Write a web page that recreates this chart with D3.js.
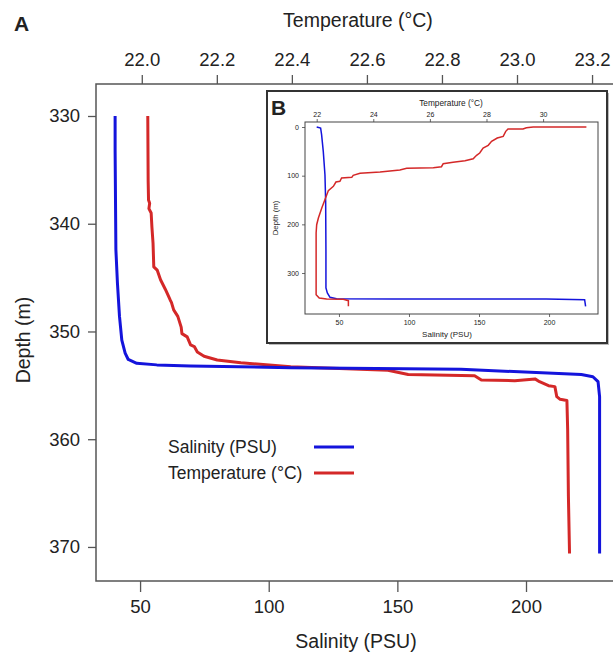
<!DOCTYPE html>
<html lang="en">
<head>
<meta charset="utf-8">
<title>Depth profile</title>
<style>
  body { margin: 0; background: #fff; }
  svg text { font-family: "Liberation Sans", Arial, sans-serif; fill: #222; }
</style>
</head>
<body>
<script src="https://cdn.jsdelivr.net/npm/d3@7"></script>
<script>
// main panel (A): 330-370 m
var salDepth = [330, 333.2, 342.4, 345.5, 348.6, 350.8, 352, 352.6, 352.95, 353.1, 353.2, 353.36, 353.5, 354.0, 354.2, 354.66, 356.05, 370.6];
var salValues = [40.3, 40.3, 40.6, 41.2, 42, 42.9, 44.2, 45.4, 48.7, 56.5, 69.5, 108.5, 174.7, 221.5, 226, 228, 228.6, 228.6];

var tempDepth = [330, 336, 337.8, 338.1, 338.6, 339, 340.3, 341.8, 344.0, 344.3, 345.2, 346.1, 347.1, 347.3, 348.0, 348.6, 349.6, 350.2, 350.5, 351.25, 351.4, 351.9, 352.3, 352.65, 352.9, 353.27, 353.6, 354.0, 354.1, 354.5, 354.57, 354.4, 354.66, 355.03, 355.12, 356.05, 356.3, 356.4, 359.1, 365.3, 370.6];
var tempValues = [22.016, 22.017, 22.018, 22.021, 22.019, 22.025, 22.027, 22.03, 22.032, 22.041, 22.05, 22.063, 22.076, 22.079, 22.085, 22.096, 22.105, 22.107, 22.121, 22.13, 22.14, 22.148, 22.166, 22.201, 22.264, 22.397, 22.656, 22.71, 22.887, 22.905, 22.994, 23.048, 23.06, 23.084, 23.101, 23.106, 23.115, 23.133, 23.135, 23.137, 23.14];

var tempTicks = [22.0, 22.2, 22.4, 22.6, 22.8, 23.0, 23.2];
var salTicks = [50, 100, 150, 200];
var depthTicks = [330, 340, 350, 360, 370];

// inset panel (B): full cast 0-370 m
var insetSalDepth = [0, 2, 15.8, 50, 98, 152.7, 255.5, 330.8, 341, 350, 352.7, 353.4, 353.4, 354.8, 368.5];
var insetSalValues = [34.1, 36.9, 37.6, 38.8, 40.0, 40.5, 40.7, 40.7, 41.7, 43.6, 48.3, 88.7, 198, 225.4, 226.1];

var insetTempDepth = [0, 0, 1.4, 4.1, 4.1, 8.9, 19.2, 22.6, 29.5, 37.7, 43.2, 53.4, 58.2, 65.1, 69.2, 72.6, 75.3, 81.5, 83.6, 84.9, 88.4, 92.5, 95.2, 99.3, 103.4, 104.8, 111.6, 113, 121.9, 130.8, 149.3, 166.4, 187, 200.7, 217.8, 344.5, 351.4, 353.4, 354.1, 356.8, 368.5];
var insetTempValues = [31.53, 29.65, 29.41, 29.29, 28.76, 28.68, 28.59, 28.38, 28.18, 28.06, 27.88, 27.76, 27.65, 27.53, 27.24, 26.82, 26.47, 26.41, 26.12, 25.18, 24.94, 24.24, 23.53, 23.29, 23.24, 22.88, 22.82, 22.68, 22.59, 22.41, 22.29, 22.18, 22.06, 22.0, 21.98, 21.98, 22.09, 22.35, 22.94, 23.12, 23.12];

var insetTempTicks = [22, 24, 26, 28, 30];
var insetSalTicks = [50, 100, 150, 200];
var insetDepthTicks = [0, 100, 200, 300];

var legendNames = ["Salinity (PSU)", "Temperature (°C)"];

var width = 613, height = 652;
var blue = "#1414dc", red = "#d42828", axisCol = "#555";

var svg = d3.select("body").append("svg")
  .attr("width", width)
  .attr("height", height);

// ---- main panel
var mLeft = 96, mRight = 614, mTop = 84, mBottom = 581;

var x = d3.scaleLinear().domain([32.87, 234.2]).range([mLeft, mRight]);
var xt = d3.scaleLinear().domain([21.878, 23.2585]).range([mLeft, mRight]);
var y = d3.scaleLinear().domain([327.03, 373.16]).range([mTop, mBottom]);

svg.append("rect")
  .attr("x", mLeft).attr("y", mTop)
  .attr("width", mRight - mLeft).attr("height", mBottom - mTop)
  .attr("fill", "none").attr("stroke", axisCol).attr("stroke-width", 1.5);

function styleAxis(g, size) {
  g.select(".domain").remove();
  g.selectAll(".tick line").attr("stroke", axisCol).attr("stroke-width", 1.3);
  g.selectAll(".tick text").attr("font-size", size).attr("fill", "#222")
    .style("font-family", "Liberation Sans, Arial, sans-serif");
}

svg.append("g")
  .attr("transform", "translate(0," + mTop + ")")
  .call(d3.axisTop(xt).tickValues(tempTicks).tickFormat(d3.format(".1f")).tickSize(9).tickPadding(9))
  .call(styleAxis, 18.5);

svg.append("g")
  .attr("transform", "translate(0," + mBottom + ")")
  .call(d3.axisBottom(x).tickValues(salTicks).tickSize(11).tickPadding(8))
  .call(styleAxis, 18.5);

svg.append("g")
  .attr("transform", "translate(" + mLeft + ",0)")
  .call(d3.axisLeft(y).tickValues(depthTicks).tickSize(8).tickPadding(8))
  .call(styleAxis, 18.5);

svg.append("text").attr("x", 358).attr("y", 27).attr("text-anchor", "middle")
  .attr("font-size", 19.5).text("Temperature (°C)");
svg.append("text").attr("x", 356).attr("y", 648).attr("text-anchor", "middle")
  .attr("font-size", 19.5).text("Salinity (PSU)");
svg.append("text").attr("transform", "translate(30,340) rotate(-90)")
  .attr("text-anchor", "middle").attr("font-size", 19.5).text("Depth (m)");
svg.append("text").attr("x", 14).attr("y", 31)
  .attr("font-size", 21).attr("font-weight", "bold").text("A");

var salLine = d3.line()
  .x(function(d, i) { return x(salValues[i]); })
  .y(function(d) { return y(d); });
var tempLine = d3.line()
  .x(function(d, i) { return xt(tempValues[i]); })
  .y(function(d) { return y(d); });

svg.append("path").datum(tempDepth).attr("d", tempLine)
  .attr("fill", "none").attr("stroke", red).attr("stroke-width", 3).attr("stroke-linejoin", "round");
svg.append("path").datum(salDepth).attr("d", salLine)
  .attr("fill", "none").attr("stroke", blue).attr("stroke-width", 3).attr("stroke-linejoin", "round");

// legend
var legend = svg.append("g").selectAll("g")
  .data(legendNames).enter().append("g")
  .attr("transform", function(d, i) { return "translate(168," + (447 + i * 26) + ")"; });
legend.append("text").attr("y", 6).attr("font-size", 17.5).text(function(d) { return d; });
legend.append("line").attr("x1", 146).attr("x2", 186)
  .attr("stroke", function(d, i) { return i === 0 ? blue : red; })
  .attr("stroke-width", 3);

// ---- inset panel
var bx0 = 267, by0 = 91, bx1 = 607, by1 = 343;
svg.append("rect").attr("x", bx0 + 2).attr("y", by0 + 2)
  .attr("width", bx1 - bx0).attr("height", by1 - by0).attr("fill", "#bbb");
svg.append("rect").attr("x", bx0).attr("y", by0)
  .attr("width", bx1 - bx0).attr("height", by1 - by0)
  .attr("fill", "#fff").attr("stroke", "#333").attr("stroke-width", 2);

var il = 305, ir = 598, itop = 122, ib = 314;
var ix = d3.scaleLinear().domain([25.75, 234.95]).range([il, ir]);
var ixt = d3.scaleLinear().domain([21.587, 31.94]).range([il, ir]);
var iy = d3.scaleLinear().domain([-10.3, 384.2]).range([itop, ib]);

svg.append("rect").attr("x", il).attr("y", itop)
  .attr("width", ir - il).attr("height", ib - itop)
  .attr("fill", "none").attr("stroke", "#444").attr("stroke-width", 1);

function styleInset(g) {
  g.select(".domain").remove();
  g.selectAll(".tick line").attr("stroke", "#444").attr("stroke-width", 0.8);
  g.selectAll(".tick text").attr("font-size", 7).attr("fill", "#333")
    .style("font-family", "Liberation Sans, Arial, sans-serif");
}

svg.append("g").attr("transform", "translate(0," + itop + ")")
  .call(d3.axisTop(ixt).tickValues(insetTempTicks).tickSize(3).tickPadding(2))
  .call(styleInset);
svg.append("g").attr("transform", "translate(0," + ib + ")")
  .call(d3.axisBottom(ix).tickValues(insetSalTicks).tickSize(3).tickPadding(3))
  .call(styleInset);
svg.append("g").attr("transform", "translate(" + il + ",0)")
  .call(d3.axisLeft(iy).tickValues(insetDepthTicks).tickSize(3).tickPadding(3))
  .call(styleInset);

svg.append("text").attr("x", 451).attr("y", 106).attr("text-anchor", "middle")
  .attr("font-size", 8.3).text("Temperature (°C)");
svg.append("text").attr("x", 447).attr("y", 337).attr("text-anchor", "middle")
  .attr("font-size", 8).text("Salinity (PSU)");
svg.append("text").attr("transform", "translate(278,218) rotate(-90)")
  .attr("text-anchor", "middle").attr("font-size", 7.8).text("Depth (m)");
svg.append("text").attr("x", 271).attr("y", 115)
  .attr("font-size", 21).attr("font-weight", "bold").text("B");

var iSalLine = d3.line()
  .x(function(d, i) { return ix(insetSalValues[i]); })
  .y(function(d) { return iy(d); });
var iTempLine = d3.line()
  .x(function(d, i) { return ixt(insetTempValues[i]); })
  .y(function(d) { return iy(d); });

svg.append("path").datum(insetSalDepth).attr("d", iSalLine)
  .attr("fill", "none").attr("stroke", blue).attr("stroke-width", 1.5);
svg.append("path").datum(insetTempDepth).attr("d", iTempLine)
  .attr("fill", "none").attr("stroke", red).attr("stroke-width", 1.5);
</script>
</body>
</html>
